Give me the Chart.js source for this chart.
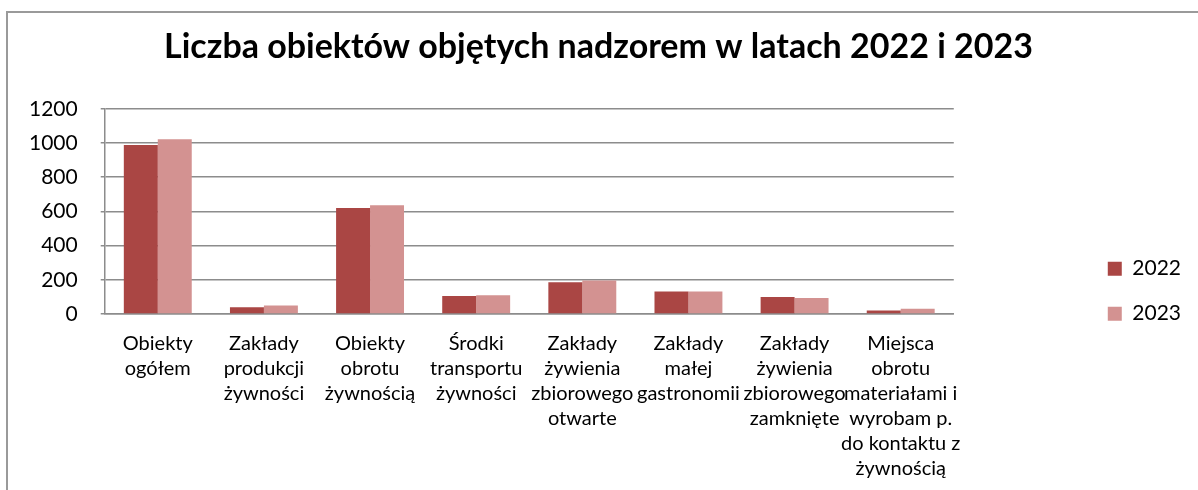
<!DOCTYPE html>
<html>
<head>
<meta charset="utf-8">
<script src="https://cdn.jsdelivr.net/npm/chart.js@4"></script>
<style>
  html, body { margin: 0; padding: 0; background: #fff; overflow: hidden; }
  #frame {
    position: absolute; left: 6px; top: 11px; width: 1300px; height: 600px;
    border-left: 2px solid #9a9a9a; border-top: 2px solid #9a9a9a;
  }
  #wrap { position: absolute; left: 0; top: 0; width: 1198px; height: 490px; }
</style>
</head>
<body>
<div id="frame"></div>
<div id="wrap"><canvas id="chart"></canvas></div>
<script>
const chartTitle = "Liczba obiektów objętych nadzorem w latach 2022 i 2023";
const categories = [
  ["Obiekty", "ogółem"],
  ["Zakłady", "produkcji", "żywności"],
  ["Obiekty", "obrotu", "żywnością"],
  ["Środki", "transportu", "żywności"],
  ["Zakłady", "żywienia", "zbiorowego", "otwarte"],
  ["Zakłady", "małej", "gastronomii"],
  ["Zakłady", "żywienia", "zbiorowego", "zamknięte"],
  ["Miejsca", "obrotu", "materiałami i", "wyrobam p.", "do kontaktu z", "żywnością"]
];
const values2022 = [988, 40, 620, 105, 186, 132, 99, 20];
const values2023 = [1022, 49, 636, 109, 196, 132, 93, 30];
const yTicks = [0, 200, 400, 600, 800, 1000, 1200];

const gridColor = "#8c8c8c";
const font = "Lato, 'Liberation Sans', sans-serif";

const chartEl = document.getElementById("chart");
const chart = new Chart(chartEl, {
  type: "bar",
  data: {
    labels: categories,
    datasets: [
      { label: "2022", data: values2022, backgroundColor: "#AA4644" },
      { label: "2023", data: values2023, backgroundColor: "#D39291" }
    ]
  },
  options: {
    responsive: true,
    maintainAspectRatio: false,
    animation: false,
    layout: { padding: { left: 6, right: 7, top: 0, bottom: 0 } },
    datasets: {
      bar: { categoryPercentage: 0.64, barPercentage: 1.0 }
    },
    scales: {
      x: {
        grid: { display: false },
        border: { display: true, color: gridColor, width: 1.5 },
        ticks: {
          color: "#000",
          maxRotation: 0,
          autoSkip: false,
          padding: 9,
          font: { family: font, size: 20, lineHeight: 1.25 }
        }
      },
      y: {
        min: 0,
        max: 1200,
        afterBuildTicks: axis => { axis.ticks = yTicks.map(v => ({ value: v })); },
        grid: { color: gridColor, lineWidth: 1.5, tickLength: 4 },
        border: { display: true, color: gridColor, width: 1.5 },
        ticks: {
          color: "#000",
          padding: 23,
          font: { family: font, size: 21 },
          callback: v => String(v)
        }
      },
      // empty space between the plot and the legend
      gap: {
        type: "linear",
        position: "right",
        min: 0,
        max: 1,
        grid: { display: false },
        border: { display: false },
        ticks: { display: false },
        afterFit: s => { s.width = 130; }
      }
    },
    plugins: {
      title: {
        display: true,
        text: chartTitle,
        color: "#000",
        font: { family: font, size: 34, weight: "bold" },
        padding: { top: 27, bottom: 41 }
      },
      legend: {
        position: "right",
        align: "center",
        title: { display: true, text: " ", font: { size: 12 }, padding: { top: 39, bottom: 39 } },
        labels: {
          color: "#000",
          boxWidth: 14,
          boxHeight: 14,
          padding: 24,
          font: { family: font, size: 21 }
        }
      },
      tooltip: { enabled: false }
    }
  }
});
</script>
</body>
</html>
